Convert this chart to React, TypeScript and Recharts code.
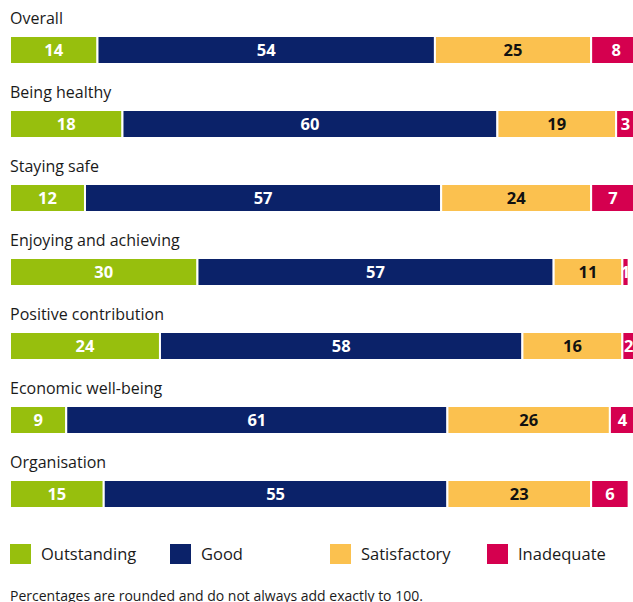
import { Bar, BarChart, LabelList, XAxis, YAxis } from "recharts"

const categories = [
  "Overall",
  "Being healthy",
  "Staying safe",
  "Enjoying and achieving",
  "Positive contribution",
  "Economic well-being",
  "Organisation",
]
const outstanding = [14, 18, 12, 30, 24, 9, 15]
const good = [54, 60, 57, 57, 58, 61, 55]
const satisfactory = [25, 19, 24, 11, 16, 26, 23]
const inadequate = [8, 3, 7, 1, 2, 4, 6]

const series = [
  { key: "outstanding", label: "Outstanding", color: "#97bf0d", text: "#ffffff" },
  { key: "good", label: "Good", color: "#0b2269", text: "#ffffff" },
  { key: "satisfactory", label: "Satisfactory", color: "#fbc14f", text: "#111111" },
  { key: "inadequate", label: "Inadequate", color: "#d5004f", text: "#ffffff" },
]

const data = categories.map((name, i) => ({
  name,
  outstanding: outstanding[i],
  good: good[i],
  satisfactory: satisfactory[i],
  inadequate: inadequate[i],
}))

const font = "'Open Sans', 'Noto Sans', sans-serif"

const legendX = [0, 160, 320, 477]

export default function App() {
  return (
    <div
      style={{
        position: "fixed",
        left: 0,
        top: 0,
        width: 633,
        height: 602,
        paddingLeft: 8,
        paddingTop: 8,
        boxSizing: "border-box",
        fontFamily: font,
        color: "#1a1a1a",
        overflow: "hidden",
        background: "#ffffff",
      }}
    >
      <BarChart
        width={660}
        height={523}
        data={data}
        layout="vertical"
        margin={{ top: 5, right: 0, left: 2, bottom: 0 }}
      >
        <XAxis type="number" domain={[0, 105.3]} allowDataOverflow hide />
        <YAxis type="category" dataKey="name" hide />
        {series.map((s, idx) => (
          <Bar
            key={s.key}
            dataKey={s.key}
            stackId="a"
            fill={s.color}
            stroke="#ffffff"
            strokeWidth={2}
            barSize={28}
            isAnimationActive={false}
          >
            <LabelList
              dataKey={s.key}
              position="center"
              fill={s.text}
              style={{ fontFamily: font, fontSize: 16.5, fontWeight: 700 }}
            />
            {idx === 0 && (
              <LabelList
                dataKey="name"
                content={(p: any) => (
                  <text
                    x={Number(p.x)}
                    y={Number(p.y) - 12}
                    fill="#1a1a1a"
                    fontSize={16}
                    fontFamily={font}
                  >
                    {p.value}
                  </text>
                )}
              />
            )}
          </Bar>
        ))}
      </BarChart>
      <div style={{ position: "relative", height: 20, marginTop: 11 }}>
        {series.map((s, i) => (
          <div
            key={s.key}
            style={{
              position: "absolute",
              left: legendX[i] + 2,
              top: 0,
              display: "flex",
              alignItems: "center",
              fontSize: 16.5,
              whiteSpace: "nowrap",
            }}
          >
            <span
              style={{
                display: "inline-block",
                width: 21,
                height: 20,
                background: s.color,
                marginRight: 10,
              }}
            />
            {s.label}
          </div>
        ))}
      </div>
      <div style={{ marginTop: 24, marginLeft: 2, fontSize: 14, whiteSpace: "nowrap" }}>
        Percentages are rounded and do not always add exactly to 100.
      </div>
    </div>
  )
}
